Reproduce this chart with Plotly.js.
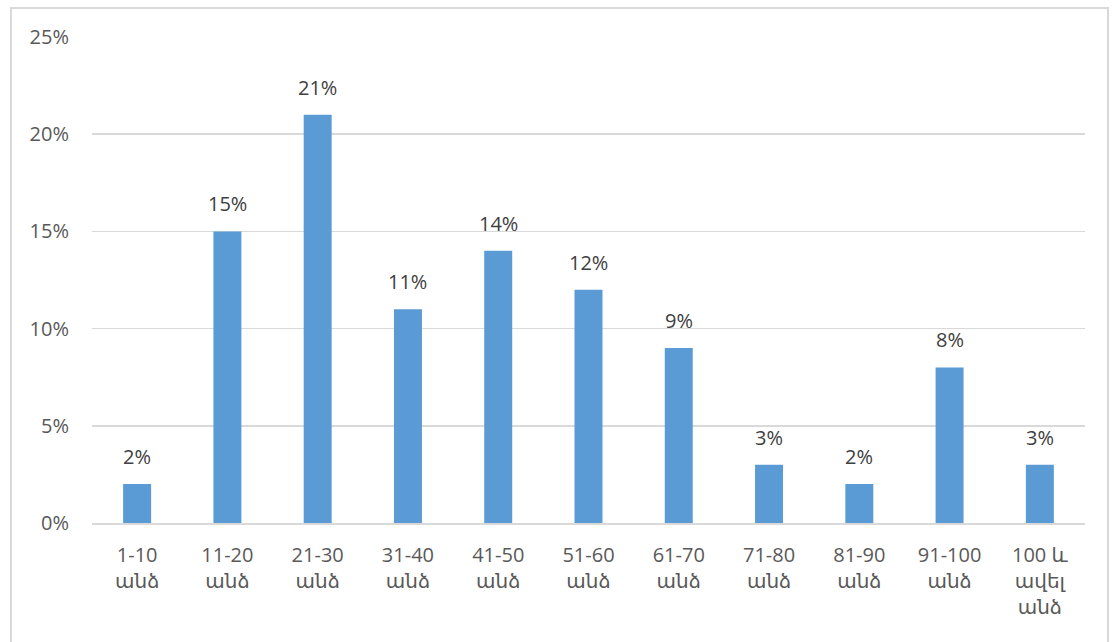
<!DOCTYPE html>
<html><head><meta charset="utf-8">
<script src="https://cdn.plot.ly/plotly-3.0.1.min.js"></script>
<style>
html,body{margin:0;padding:0;background:#fff;}
#frame{position:absolute;left:10px;top:7px;width:1099px;height:660px;border:2px solid #d9d9d9;box-sizing:border-box;}
#chart{position:absolute;left:0;top:0;width:1118px;height:642px;}
</style></head>
<body>
<div id="frame"></div>
<div id="chart"></div>
<script>
const categories = ["1-10<br>անձ","11-20<br>անձ","21-30<br>անձ","31-40<br>անձ","41-50<br>անձ","51-60<br>անձ","61-70<br>անձ","71-80<br>անձ","81-90<br>անձ","91-100<br>անձ","100 և<br>ավել<br>անձ"];
const values = [0.02,0.15,0.21,0.11,0.14,0.12,0.09,0.03,0.02,0.08,0.03];
const labels = values.map(v => Math.round(v*100) + "%");
const yTicks = [0,0.05,0.10,0.15,0.20,0.25];
const yTickText = ["0%","5%","10%","15%","20%","25%"];

const fontFam = "'Open Sans', 'DejaVu Sans', sans-serif";
const annotations = categories.map((c, i) => ({
  x: c, y: values[i], xref: "x", yref: "y",
  text: labels[i], showarrow: false, yanchor: "bottom", yshift: 12,
  font: {family: fontFam, size: 20, color: "#404040"}
}));
Plotly.newPlot("chart", [{
  type: "bar",
  x: categories,
  y: values,
  marker: {color: "#5B9BD5"},
  hoverinfo: "skip"
}], {
  width: 1118, height: 642,
  margin: {l: 92, r: 33, t: 37, b: 119},
  paper_bgcolor: "rgba(0,0,0,0)",
  plot_bgcolor: "rgba(0,0,0,0)",
  bargap: 0.69,
  showlegend: false,
  annotations: annotations,
  font: {family: fontFam, size: 20, color: "#595959"},
  xaxis: {
    showgrid: false, zeroline: false, showline: true, linecolor: "#d9d9d9", linewidth: 1.5,
    ticks: "", ticklabelstandoff: 13, tickangle: 0,
    tickfont: {family: fontFam, size: 20, color: "#595959"}
  },
  yaxis: {
    range: [0, 0.25], tickvals: yTicks, ticktext: yTickText,
    showgrid: true, gridcolor: "#d9d9d9", gridwidth: 1.5, zeroline: false, showline: false,
    ticks: "", ticklabelstandoff: 22,
    tickfont: {family: fontFam, size: 20, color: "#595959"}
  }
}, {displayModeBar: false, staticPlot: true});
</script>
</body></html>
